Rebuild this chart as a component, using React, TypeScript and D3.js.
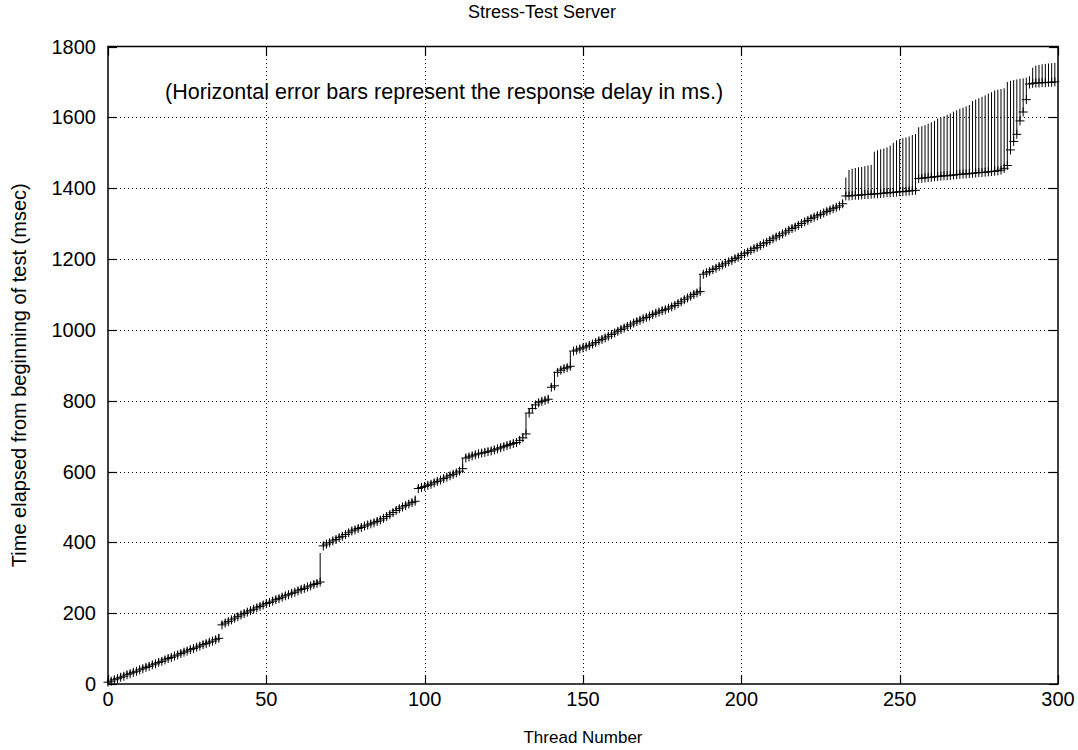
import * as d3 from 'd3';
import React, { useRef, useEffect } from 'react';

// start time of each thread (ms), index = thread number
const startMs = [
  5, 8, 12, 15, 19, 22, 26, 29, 33, 36,
  40, 43, 47, 50, 54, 57, 61, 64, 68, 72,
  75, 79, 82, 86, 90, 93, 97, 100, 104, 107,
  111, 114, 118, 121, 125, 129,
  167, 172, 176, 181, 186, 190, 195, 199, 203, 207,
  211, 215, 219, 223, 227, 230, 234, 238, 241, 245,
  249, 252, 256, 259, 263, 267, 270, 274, 277, 281,
  284, 288,
  390, 395, 399, 404, 408, 413, 417, 422, 427, 432,
  435, 439, 442, 446, 449, 452, 455, 459, 463, 468,
  473, 478, 484, 490, 495, 500, 504, 508, 512, 516,
  552, 555, 558, 561, 564, 568, 572, 576, 580, 584,
  588, 592, 596, 601, 608, 638, 641, 644, 647, 650,
  652, 654, 656, 658, 661, 664, 667, 670, 673, 676,
  679, 682, 688, 695, 706,
  765, 778, 788, 794, 798, 801, 804, 838, 842, 880, 886, 890, 893, 897,
  940, 943, 946, 949, 952, 956, 960, 964, 969, 973,
  977, 982, 987, 991, 996, 1001, 1005, 1010, 1014, 1019,
  1023, 1027, 1031, 1035, 1039, 1043, 1047, 1050, 1054, 1057,
  1061, 1065, 1069, 1074, 1079, 1085, 1090, 1095, 1100, 1104, 1108,
  1157, 1161, 1165, 1170, 1174, 1179, 1183, 1188, 1192, 1196,
  1201, 1205, 1210, 1215, 1219, 1224, 1229, 1233, 1238, 1243,
  1247, 1252, 1257, 1262, 1266, 1271, 1276, 1281, 1286, 1290,
  1295, 1300, 1305, 1309, 1314, 1318, 1322, 1326, 1330, 1334,
  1338, 1342, 1346, 1350, 1356,
  1378, 1378, 1379, 1380, 1380, 1381, 1382, 1382, 1383, 1384,
  1384, 1385, 1386, 1387, 1387, 1388, 1389, 1390, 1390, 1391,
  1392, 1393, 1394,
  1427, 1428, 1429, 1430, 1431, 1432, 1433, 1434, 1435, 1435,
  1436, 1437, 1438, 1439, 1440, 1440, 1441, 1442, 1443, 1444,
  1444, 1445, 1446, 1447, 1448, 1449, 1451, 1456,
  1464, 1508, 1532, 1552, 1590, 1615, 1650, 1694, 1696, 1697,
  1697, 1698, 1698, 1699, 1699, 1700,
];

// response delay of each thread (ms), drawn as the error bar
const delayMs = [
  10, 10, 10, 10, 10, 10, 10, 10, 10, 10,
  10, 10, 10, 10, 10, 10, 10, 10, 10, 10,
  10, 10, 10, 10, 10, 10, 10, 10, 10, 10,
  10, 10, 10, 10, 10, 12,
  10, 10, 10, 10, 10, 10, 10, 10, 10, 10,
  10, 10, 10, 10, 10, 10, 10, 10, 10, 10,
  10, 10, 10, 10, 10, 10, 10, 10, 10, 10,
  10, 82,
  10, 10, 10, 10, 10, 10, 10, 10, 10, 10,
  10, 10, 10, 10, 10, 10, 10, 10, 10, 10,
  10, 10, 10, 10, 10, 10, 10, 10, 10, 16,
  10, 10, 10, 10, 10, 10, 10, 10, 10, 10,
  10, 10, 10, 10, 30, 10, 10, 10, 10, 10,
  10, 10, 10, 10, 10, 10, 10, 10, 10, 10,
  10, 10, 10, 10, 58,
  12, 10, 10, 10, 10, 10, 10, 10, 40, 10, 10, 10, 10, 42,
  10, 10, 10, 10, 10, 10, 10, 10, 10, 10,
  10, 10, 10, 10, 10, 10, 10, 10, 10, 10,
  10, 10, 10, 10, 10, 10, 10, 10, 10, 10,
  10, 10, 10, 10, 10, 10, 10, 10, 10, 10, 48,
  10, 10, 10, 10, 10, 10, 10, 10, 10, 10,
  10, 10, 10, 10, 10, 10, 10, 10, 10, 10,
  10, 10, 10, 10, 10, 10, 10, 10, 10, 10,
  10, 10, 10, 10, 10, 10, 10, 10, 10, 10,
  10, 10, 10, 10, 10,
  52, 74, 76, 77, 79, 79, 80, 82, 83, 119,
  123, 125, 126, 128, 133, 140, 146, 148, 151, 152,
  154, 157, 159,
  145, 147, 149, 152, 155, 158, 164, 166, 168, 172,
  175, 179, 182, 185, 187, 191, 194, 204, 207, 210,
  214, 217, 221, 224, 228, 229, 229, 226,
  236, 195, 173, 155, 119, 95, 62, 22, 44, 49,
  51, 52, 53, 53, 54, 54,
];

const xTicks = [0, 50, 100, 150, 200, 250, 300];
const yTicks = [0, 200, 400, 600, 800, 1000, 1200, 1400, 1600, 1800];

const chartTitle = 'Stress-Test Server';
const noteText = '(Horizontal error bars represent the response delay in ms.)';
const xLabel = 'Thread Number';
const yLabel = 'Time elapsed from beginning of test (msec)';

const W = 1078;
const H = 750;
const margin = { left: 108, right: 20, top: 46.5, bottom: 66 };
const FONT = '"Liberation Sans", Arial, Helvetica, sans-serif';

function StressChart() {
  const ref = useRef(null);

  useEffect(() => {
    const svg = d3.select(ref.current);
    svg.selectAll('*').remove();

    const x = d3.scaleLinear().domain([0, 300]).range([margin.left, W - margin.right]);
    const y = d3.scaleLinear().domain([0, 1800]).range([H - margin.bottom, margin.top]);
    const x0 = x(0), x1 = x(300), y0 = y(0), y1 = y(1800);
    const tick = 9;

    svg.append('rect').attr('width', W).attr('height', H).attr('fill', '#fff');

    // dotted grid
    const grid = svg.append('g').attr('stroke', '#000').attr('stroke-width', 1)
      .attr('stroke-dasharray', '1,3');
    grid.selectAll('.gx').data(xTicks.slice(1, -1)).join('line')
      .attr('x1', d => Math.round(x(d)) + 0.5).attr('x2', d => Math.round(x(d)) + 0.5)
      .attr('y1', y0).attr('y2', y1);
    grid.selectAll('.gy').data(yTicks.slice(1, -1)).join('line')
      .attr('y1', d => Math.round(y(d)) + 0.5).attr('y2', d => Math.round(y(d)) + 0.5)
      .attr('x1', x0).attr('x2', x1);

    // inward tick marks on all four sides
    const ticks = svg.append('g').attr('stroke', '#000').attr('stroke-width', 1.2);
    xTicks.forEach(d => {
      const px = Math.round(x(d)) + 0.5;
      ticks.append('line').attr('x1', px).attr('x2', px).attr('y1', y0).attr('y2', y0 - tick);
      ticks.append('line').attr('x1', px).attr('x2', px).attr('y1', y1).attr('y2', y1 + tick);
    });
    yTicks.forEach(d => {
      const py = Math.round(y(d)) + 0.5;
      ticks.append('line').attr('y1', py).attr('y2', py).attr('x1', x0).attr('x2', x0 + tick);
      ticks.append('line').attr('y1', py).attr('y2', py).attr('x1', x1).attr('x2', x1 - tick);
    });

    // error bars (start -> start + delay)
    svg.append('g').attr('stroke', '#000').attr('stroke-width', 1)
      .selectAll('line').data(startMs).join('line')
      .attr('x1', (d, i) => x(i)).attr('x2', (d, i) => x(i))
      .attr('y1', d => y(d)).attr('y2', (d, i) => y(d + delayMs[i]));

    // "+" point markers
    const r = 4.5;
    svg.append('g').attr('stroke', '#000').attr('stroke-width', 1).attr('fill', 'none')
      .selectAll('path').data(startMs).join('path')
      .attr('d', (d, i) => `M${x(i) - r},${y(d)}h${2 * r}M${x(i)},${y(d) - r}v${2 * r}`);

    // border
    svg.append('rect').attr('x', x0).attr('y', y1).attr('width', x1 - x0).attr('height', y0 - y1)
      .attr('fill', 'none').attr('stroke', '#000').attr('stroke-width', 1.5);

    const txt = svg.append('g').attr('font-family', FONT).attr('fill', '#000');

    txt.selectAll('.xl').data(xTicks).join('text')
      .attr('x', d => x(d)).attr('y', y0 + 22)
      .attr('text-anchor', 'middle').attr('font-size', 20).text(d => d);
    txt.selectAll('.yl').data(yTicks).join('text')
      .attr('x', x0 - 12).attr('y', d => y(d) + 7)
      .attr('text-anchor', 'end').attr('font-size', 20).text(d => d);

    // gnuplot centres the title on the whole canvas
    txt.append('text').attr('x', W / 2 + 3).attr('y', 18)
      .attr('text-anchor', 'middle').attr('font-size', 18).text(chartTitle);
    txt.append('text').attr('x', (x0 + x1) / 2).attr('y', 743)
      .attr('text-anchor', 'middle').attr('font-size', 17).text(xLabel);
    txt.append('text').attr('transform', `translate(26,${(y0 + y1) / 2 + 10}) rotate(-90)`)
      .attr('text-anchor', 'middle').attr('font-size', 20).text(yLabel);
    txt.append('text').attr('x', 165).attr('y', 99)
      .attr('font-size', 21.5).text(noteText);
  }, []);

  return (
    <svg ref={ref} width={W} height={H}
      style={{ position: 'absolute', left: 0, top: 0, display: 'block' }} />
  );
}

export default function App() {
  return <StressChart />;
}
